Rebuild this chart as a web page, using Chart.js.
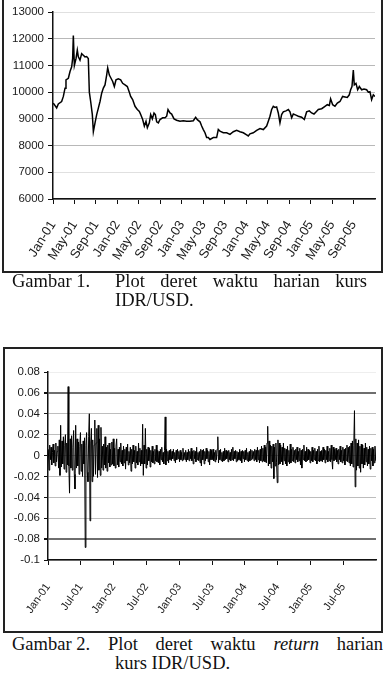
<!DOCTYPE html>
<html>
<head>
<meta charset="utf-8">
<script src="https://cdn.jsdelivr.net/npm/chart.js@4.4.0/dist/chart.umd.min.js"></script>
<style>
  html, body { margin: 0; padding: 0; background: #fff; }
  body { width: 384px; height: 682px; position: relative; overflow: hidden; }
  .box { position: absolute; border: 2px solid #222; box-sizing: border-box; z-index: 2; }
  #box1 { left: 2px; top: -2px; width: 381px; height: 275px; }
  #box2 { left: 3px; top: 347px; width: 380px; height: 286px; }
  canvas { position: absolute; left: 0; }
  #graficoKurs { top: 0; }
  #graficoReturn { top: 348px; }
  .cap { position: absolute; font-family: 'Liberation Serif', 'Times New Roman', serif; font-size: 18.5px; line-height: 19px; color: #111; white-space: nowrap; }
  .lbl { left: 12px; }
  .l1 { text-align: justify; text-align-last: justify; white-space: normal; }
</style>
</head>
<body>
<div class="box" id="box1"></div>
<div class="box" id="box2"></div>
<canvas id="graficoKurs" width="384" height="272"></canvas>
<canvas id="graficoReturn" width="384" height="284"></canvas>

<div class="cap lbl" style="top:272px">Gambar 1.</div>
<div class="cap l1" style="top:272px; left:115px; width:252px">Plot deret waktu harian kurs</div>
<div class="cap" style="top:291px; left:115px">IDR/USD.</div>

<div class="cap lbl" style="top:635px">Gambar 2.</div>
<div class="cap l1" style="top:635px; left:108px; width:275px">Plot deret waktu <i>return</i> harian</div>
<div class="cap" style="top:654px; left:115px">kurs IDR/USD.</div>

<script>
// kurs harian IDR/USD (bulan sejak Jan-01)
const bulanKurs = [
  0.06, 0.68, 0.99, 1.61, 1.93, 2.24, 2.42, 2.86, 3.17, 3.48, 3.66, 3.79, 3.98, 4.29, 4.53, 4.72,
  5.03, 5.34, 5.65, 5.96, 6.27, 6.58, 6.77, 7.02, 7.33, 7.52, 7.83, 8.14, 8.45, 8.76, 9.07, 9.38,
  9.69, 10.0, 10.19, 10.5, 10.81, 11.12, 11.43, 11.74, 12.17, 12.61, 12.98, 13.42, 13.85, 14.22,
  14.47, 14.84, 15.28, 15.71, 16.09, 16.34, 16.71, 17.02, 17.33, 17.58, 17.95, 18.2, 18.51, 18.82,
  19.07, 19.32, 19.63, 19.94, 20.43, 20.87, 21.18, 21.43, 21.8, 22.11, 22.55, 23.04, 23.66, 24.29,
  24.91, 25.53, 26.15, 26.58, 26.89, 27.39, 27.7, 28.01, 28.32, 28.63, 28.94, 29.25, 29.87, 30.49,
  30.8, 31.11, 31.73, 32.36, 32.98, 33.6, 34.22, 34.84, 35.46, 36.08, 36.39, 36.7, 37.32, 37.95,
  38.57, 39.19, 39.81, 40.12, 40.43, 40.74, 41.05, 41.36, 41.67, 41.98, 42.29, 42.6, 42.91, 43.41,
  43.85, 44.16, 44.47, 44.78, 45.27, 45.71, 46.33, 46.83, 47.26, 47.76, 48.19, 48.63, 49.0, 49.44,
  50.06, 50.68, 51.11, 51.49, 51.73, 52.11, 52.54, 52.98, 53.47, 53.97, 54.41, 54.84, 55.21, 55.46,
  55.71, 55.96, 56.14, 56.45, 56.77, 57.08, 57.51, 57.95, 58.44, 58.75, 59.06, 59.37, 59.69, 60.0
];
const nilaiKurs = [
  9590, 9410, 9560, 9650, 9840, 10150, 10460, 10520, 10770, 10950, 11260, 12120, 11000, 11260, 11570, 11320,
  11200, 11440, 11380, 11320, 11330, 11260, 10000, 9650, 9160, 8520, 8850, 9160, 9400, 9650, 9960, 10150,
  10270, 10640, 10910, 10640, 10520, 10400, 10210, 10460, 10500, 10460, 10330, 10270, 10210, 10000,
  9840, 9720, 9470, 9350, 9280, 9160, 8975, 8730, 8910, 8670, 8850, 9160, 9000, 9220,
  9160, 8890, 8850, 8975, 9040, 9040, 9100, 9350, 9220, 9180, 9000, 8950, 8910, 8930,
  8910, 8910, 8930, 9060, 8970, 8890, 8730, 8600, 8480, 8300, 8300, 8230, 8300, 8300,
  8600, 8540, 8480, 8480, 8420, 8520, 8570, 8520, 8480, 8400, 8360, 8440, 8480, 8570,
  8640, 8600, 8730, 8910, 9100, 9350, 9470, 9430, 9450, 9220, 8850, 9160, 9260, 9300,
  9350, 9260, 9040, 9180, 9140, 9100, 9060, 8975, 9260, 9300, 9220, 9180, 9260, 9350,
  9380, 9470, 9530, 9500, 9750, 9530, 9470, 9590, 9650, 9840, 9820, 9800, 9900, 10090,
  10210, 10830, 10270, 10330, 10090, 10210, 10090, 10120, 10090, 10000, 10020, 9720, 9900, 9840
];
const labelKurs = ['Jan-01', 'May-01', 'Sep-01', 'Jan-02', 'May-02', 'Sep-02', 'Jan-03', 'May-03',
  'Sep-03', 'Jan-04', 'May-04', 'Sep-04', 'Jan-05', 'May-05', 'Sep-05'];

// return harian (8 nilai per bulan, Jan-01 s/d Des-05)
const nilaiReturn = [
  0.006, -0.014, 0.010, -0.004, 0.008, -0.009, 0.003, 0.011, -0.007, 0.005, -0.010, 0.012, -0.006, 0.004, 0.009, -0.012, 0.015, -0.019, 0.029, -0.011,
  0.014, -0.008, 0.018, -0.013, 0.010, 0.020, -0.016, 0.012, -0.009, 0.066, -0.010, -0.036, 0.016, -0.012, 0.019, -0.014, 0.008, 0.024, -0.018, -0.032,
  0.029, -0.012, 0.016, -0.010, 0.013, -0.018, 0.009, 0.022, -0.015, 0.011, -0.020, 0.014, -0.008, 0.017, -0.088, 0.010, 0.022, -0.016, -0.025, 0.018,
  0.040, -0.0625, 0.012, 0.026, -0.025, 0.015, -0.020, 0.010, 0.034, -0.018, 0.012, 0.026, -0.021, 0.029, -0.014, 0.016, -0.019, 0.027, -0.012, 0.009,
  -0.014, 0.011, -0.009, 0.018, -0.012, 0.008, -0.015, 0.010, -0.007, 0.012, -0.011, 0.006, -0.009, 0.013, -0.008, 0.016, -0.010, 0.007, -0.012, 0.009,
  0.016, -0.009, 0.006, -0.011, 0.008, -0.006, 0.012, -0.008, 0.005, -0.010, 0.009, -0.007, 0.006, -0.013, 0.008, -0.005, 0.011, -0.009, 0.004, -0.007,
  0.008, -0.015, 0.006, -0.008, 0.010, -0.006, 0.005, -0.012, 0.009, -0.007, 0.004, -0.009, 0.012, -0.006, 0.007, -0.010, 0.005, -0.008, 0.030, -0.019,
  0.010, -0.008, 0.026, -0.012, 0.006, -0.009, 0.008, -0.005, 0.007, -0.011, 0.005, -0.006, 0.009, -0.007, 0.004, -0.008, 0.006, -0.005, 0.010, -0.006,
  0.005, -0.007, 0.004, -0.009, 0.006, -0.004, 0.008, -0.006, 0.003, -0.008, 0.005, 0.037, -0.009, 0.006, -0.005, 0.004, -0.007, 0.005, -0.004, 0.006,
  -0.005, 0.004, -0.003, 0.006, -0.005, 0.003, -0.007, 0.005, -0.004, 0.006, -0.003, 0.004, -0.006, 0.005, -0.004, 0.003, -0.005, 0.007, -0.004, 0.003,
  -0.004, 0.005, -0.006, 0.003, -0.004, 0.006, -0.005, 0.004, -0.003, 0.007, -0.005, 0.004, -0.008, 0.005, -0.003, 0.004, -0.006, 0.008, -0.004, 0.003,
  -0.005, 0.004, -0.007, 0.006, -0.010, 0.005, -0.004, 0.006, -0.008, 0.004, -0.005, 0.007, -0.003, 0.005, -0.006, 0.004, -0.009, 0.006, -0.004, 0.005,
  -0.004, 0.006, -0.005, 0.003, -0.006, 0.005, -0.004, 0.006, 0.018, -0.007, 0.005, -0.004, 0.006, -0.005, 0.003, -0.006, 0.004, -0.005, 0.007, -0.004,
  0.005, -0.003, 0.004, -0.006, 0.005, -0.004, 0.003, -0.005, 0.006, -0.004, 0.008, -0.005, 0.004, -0.003, 0.005, -0.006, 0.004, -0.005, 0.003, -0.004,
  0.006, -0.005, 0.004, -0.007, 0.005, -0.003, 0.004, -0.006, 0.005, -0.004, 0.007, -0.005, 0.003, -0.006, 0.004, -0.005, 0.006, -0.004, 0.005, -0.003,
  0.004, -0.005, 0.006, -0.004, 0.005, -0.006, 0.008, -0.004, 0.005, -0.007, 0.006, -0.005, 0.009, -0.006, 0.007, -0.005, 0.010, -0.006, 0.008, -0.007,
  0.012, 0.028, -0.010, 0.014, -0.008, 0.010, -0.012, 0.009, -0.006, 0.011, -0.022, 0.008, -0.010, 0.012, -0.007, -0.026, 0.015, -0.009, 0.012, -0.008,
  0.010, -0.006, 0.008, -0.009, 0.012, -0.005, 0.007, -0.008, 0.006, -0.010, 0.009, -0.006, 0.005, -0.008, 0.011, -0.007, 0.006, -0.005, 0.008, -0.006,
  0.005, -0.007, 0.006, -0.004, 0.008, -0.006, 0.004, -0.005, 0.007, -0.009, 0.005, -0.012, 0.006, -0.004, 0.010, -0.005, 0.004, -0.006, 0.008, -0.005,
  0.006, -0.004, 0.005, -0.007, 0.004, -0.005, 0.008, -0.006, 0.005, -0.004, 0.007, -0.005, 0.004, -0.008, 0.006, -0.005, 0.009, -0.006, 0.004, -0.005,
  0.005, -0.006, 0.008, -0.004, 0.006, -0.007, 0.005, -0.004, 0.009, -0.006, 0.004, -0.005, 0.007, -0.006, 0.010, -0.004, -0.013, 0.008, -0.005, 0.006,
  -0.004, 0.007, -0.006, 0.005, -0.008, 0.006, -0.004, 0.009, -0.006, 0.005, -0.007, 0.008, -0.005, 0.006, -0.009, 0.007, -0.005, 0.010, -0.006, 0.008,
  -0.007, 0.009, -0.010, 0.012, -0.008, 0.014, -0.011, 0.010, 0.043, -0.030, 0.016, -0.014, 0.012, -0.010, 0.015, -0.012, 0.009, -0.016, 0.011, -0.008,
  0.010, -0.012, 0.007, -0.009, 0.012, -0.006, 0.008, -0.010, 0.006, -0.008, 0.009, -0.013, 0.007, -0.005, 0.008, -0.010, 0.006, -0.007, 0.009, -0.005
];
const labelReturn = ['Jan-01', 'Jul-01', 'Jan-02', 'Jul-02', 'Jan-03', 'Jul-03', 'Jan-04', 'Jul-04', 'Jan-05', 'Jul-05'];

const warnaTeks = '#1a1a1a';
const hurufSans = "'Liberation Sans', Arial, sans-serif";

const ctxKurs = document.getElementById('graficoKurs').getContext('2d');
const graficoKurs = new Chart(ctxKurs, {
    type: 'line',
    data: {
        datasets: [{
            data: bulanKurs.map((b, i) => ({ x: b, y: nilaiKurs[i] })),
            borderColor: '#000',
            borderWidth: 1.5,
            pointRadius: 0,
            tension: 0
        }]
    },
    options: {
        responsive: false,
        animation: false,
        devicePixelRatio: 1,
        layout: { padding: { top: 12, right: 9, left: 0, bottom: 0 } },
        scales: {
            x: {
                type: 'linear',
                min: 0,
                max: 60,
                afterBuildTicks: s => { s.ticks = labelKurs.map((l, i) => ({ value: i * 4 })); },
                afterFit: s => { s.height = 73; s.paddingLeft = 0; s.paddingRight = 0; },
                ticks: {
                    autoSkip: false,
                    minRotation: 58,
                    maxRotation: 58,
                    padding: 14,
                    color: warnaTeks,
                    font: { family: hurufSans, size: 13 },
                    callback: v => labelKurs[Math.round(v / 4)]
                },
                grid: { drawOnChartArea: false, tickLength: 5, tickColor: '#111' },
                border: { color: '#111', width: 1.5 }
            },
            y: {
                min: 6000,
                max: 13000,
                afterFit: s => { s.width = 53; s.paddingTop = 0; s.paddingBottom = 0; },
                ticks: {
                    stepSize: 1000,
                    padding: 4,
                    color: warnaTeks,
                    font: { family: hurufSans, size: 11.5 },
                    callback: v => String(v)
                },
                grid: {
                    color: c => (c.tick && (c.tick.value === 13000 || c.tick.value === 7000)) ? '#e0e0e0' : '#b8b8b8',
                    tickLength: 5,
                    tickColor: '#111'
                },
                border: { color: '#111', width: 1.5 }
            }
        },
        plugins: {
            legend: { display: false },
            tooltip: { enabled: false }
        }
    }
});

const ctxReturn = document.getElementById('graficoReturn').getContext('2d');
const garisTebal = v => Math.abs(v - 0.06) < 1e-6 || Math.abs(v + 0.08) < 1e-6;
const graficoReturn = new Chart(ctxReturn, {
    type: 'line',
    data: {
        datasets: [{
            data: nilaiReturn.map((r, i) => ({ x: (i + 0.5) / 8, y: r })),
            borderColor: '#000',
            borderWidth: 1,
            pointRadius: 0,
            tension: 0
        }]
    },
    options: {
        responsive: false,
        animation: false,
        devicePixelRatio: 1,
        layout: { padding: { top: 24, right: 8, left: 0, bottom: 0 } },
        scales: {
            x: {
                type: 'linear',
                min: 0,
                max: 60,
                afterBuildTicks: s => { s.ticks = labelReturn.map((l, i) => ({ value: i * 6 })); },
                afterFit: s => { s.height = 72; s.paddingLeft = 0; s.paddingRight = 0; },
                ticks: {
                    autoSkip: false,
                    minRotation: 55,
                    maxRotation: 55,
                    padding: 16,
                    color: warnaTeks,
                    font: { family: hurufSans, size: 11 },
                    callback: v => labelReturn[Math.round(v / 6)]
                },
                grid: { drawOnChartArea: false, tickLength: 5, tickColor: '#111' },
                border: { color: '#111', width: 1.5 }
            },
            y: {
                min: -0.1,
                max: 0.08,
                afterFit: s => { s.width = 48; s.paddingTop = 0; s.paddingBottom = 0; },
                ticks: {
                    stepSize: 0.02,
                    padding: 4,
                    color: warnaTeks,
                    font: { family: hurufSans, size: 11.5 },
                    callback: v => parseFloat(v.toFixed(2)).toString()
                },
                grid: {
                    color: c => {
                        if (!c.tick) return '#bdbdbd';
                        if (garisTebal(c.tick.value)) return '#6e6e6e';
                        if (Math.abs(c.tick.value - 0.08) < 1e-6) return '#eeeeee';
                        return '#bdbdbd';
                    },
                    lineWidth: c => (c.tick && garisTebal(c.tick.value)) ? 2 : 1,
                    tickLength: 4,
                    tickColor: '#111'
                },
                border: { color: '#111', width: 1.5 }
            }
        },
        plugins: {
            legend: { display: false },
            tooltip: { enabled: false }
        }
    }
});
</script>
</body>
</html>
